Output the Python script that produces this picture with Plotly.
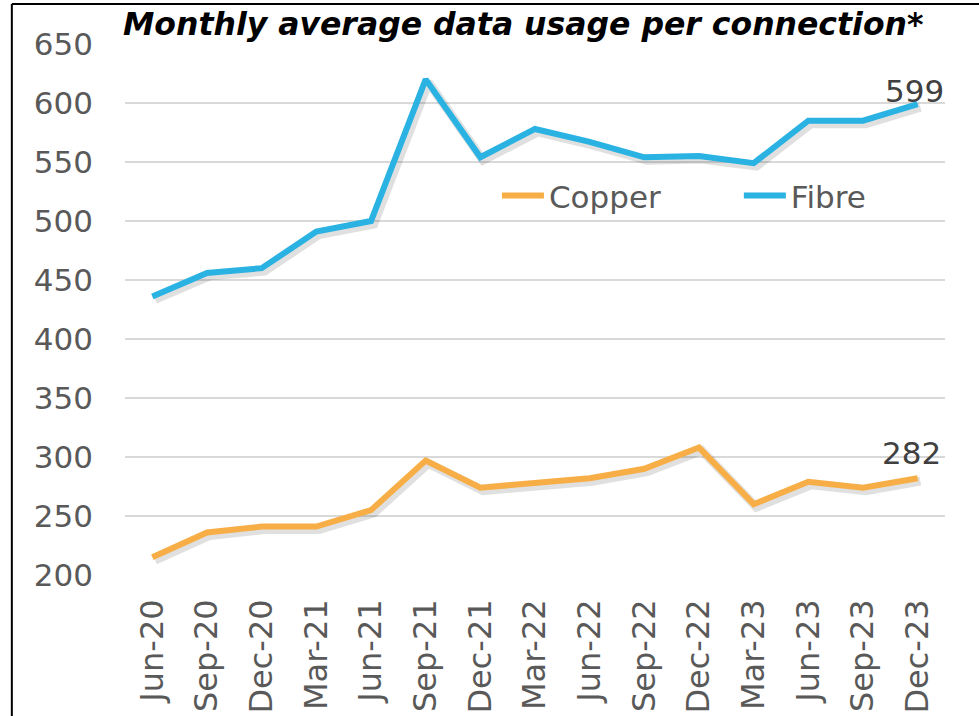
import plotly.graph_objects as go

quarters = ["Jun-20", "Sep-20", "Dec-20", "Mar-21", "Jun-21", "Sep-21", "Dec-21",
            "Mar-22", "Jun-22", "Sep-22", "Dec-22", "Mar-23", "Jun-23", "Sep-23", "Dec-23"]
copper = [215, 236, 241, 241, 255, 297, 274, 278, 282, 290, 308, 260, 279, 274, 282]
fibre = [436, 456, 460, 491, 500, 620, 554, 578, 567, 554, 555, 549, 585, 585, 599]
y_ticks = [200, 250, 300, 350, 400, 450, 500, 550, 600, 650]

title = "Monthly average data usage per connection*"
COPPER = "#F7AE47"
FIBRE = "#29B2E2"
FONT = "DejaVu Sans"

xs = list(range(len(quarters)))

fig = go.Figure()

# invisible trace so the base axes (ticks, grid) are drawn
fig.add_trace(go.Scatter(x=xs, y=copper, mode="lines", line=dict(color="rgba(0,0,0,0)"),
                         showlegend=False, hoverinfo="skip"))

# soft shadows (same data, on an overlay axis nudged a few pixels)
for vals in (copper, fibre):
    fig.add_trace(go.Scatter(x=xs, y=vals, mode="lines", xaxis="x2", yaxis="y2",
                             line=dict(color="rgba(0,0,0,0.12)", width=9),
                             showlegend=False, hoverinfo="skip"))

fig.add_trace(go.Scatter(x=xs, y=copper, mode="lines", name="Copper",
                         xaxis="x3", yaxis="y3", legend="legend",
                         line=dict(color=COPPER, width=6)))
fig.add_trace(go.Scatter(x=xs, y=fibre, mode="lines", name="Fibre",
                         xaxis="x3", yaxis="y3", legend="legend2",
                         line=dict(color=FIBRE, width=6)))

xr = [-0.5, len(quarters) - 0.5]
yr = [y_ticks[0], y_ticks[-1]]
dx = 0.05
dy = 2.5

leg = dict(orientation="h", y=0.714, xanchor="left", yanchor="middle",
           font=dict(size=31, color="#595959"), bgcolor="rgba(0,0,0,0)", itemwidth=42)

end_labels = [
    dict(x=xs[-1], y=fibre[-1], text=str(fibre[-1]), xshift=-3, yshift=13),
    dict(x=xs[-1], y=copper[-1], text=str(copper[-1]), xshift=-6, yshift=25),
]
annotations = [dict(a, xref="x", yref="y", showarrow=False, xanchor="center", yanchor="middle",
                    font=dict(family=FONT, size=31, color="#404040")) for a in end_labels]
annotations.append(dict(text="<b><i>" + title + "</i></b>", xref="paper", yref="paper",
                        x=0.4848, y=1.0, xanchor="center", yanchor="bottom", showarrow=False,
                        font=dict(family=FONT, size=31.5, color="black")))

fig.update_layout(
    width=979, height=716,
    paper_bgcolor="white", plot_bgcolor="white",
    margin=dict(l=125, r=34, t=44, b=141, autoexpand=False),
    font=dict(family=FONT, color="#595959"),
    xaxis=dict(range=xr, tickmode="array", tickvals=xs, ticktext=quarters,
               tickangle=-90, showgrid=False, zeroline=False, showline=False,
               automargin=False,
               tickfont=dict(size=32, color="#595959"), ticks="", ticklabelstandoff=17),
    yaxis=dict(range=yr, tickmode="array", tickvals=y_ticks, showgrid=True,
               gridcolor="#D9D9D9", gridwidth=1.5, zeroline=False, showline=False,
               automargin=False,
               tickfont=dict(size=31, color="#595959"), ticks="", ticklabelstandoff=31),
    xaxis2=dict(range=[xr[0] - dx, xr[1] - dx], overlaying="x", visible=False),
    yaxis2=dict(range=[yr[0] + dy, yr[1] + dy], overlaying="y", visible=False),
    xaxis3=dict(range=xr, overlaying="x", visible=False),
    yaxis3=dict(range=yr, overlaying="y", visible=False),
    legend=dict(leg, x=0.4536),
    legend2=dict(leg, x=0.7486),
    showlegend=True,
    annotations=annotations,
    shapes=[
        dict(type="line", xref="paper", yref="paper", x0=-0.138, x1=1.2, y0=1.0753, y1=1.0753,
             line=dict(color="black", width=2)),
        dict(type="line", xref="paper", yref="paper", x0=-0.138, x1=-0.138, y0=-0.4, y1=1.0753,
             line=dict(color="black", width=2)),
    ],
)

fig.write_html("out.html", config={"displayModeBar": False},
               post_script="document.body.style.margin='0';")
